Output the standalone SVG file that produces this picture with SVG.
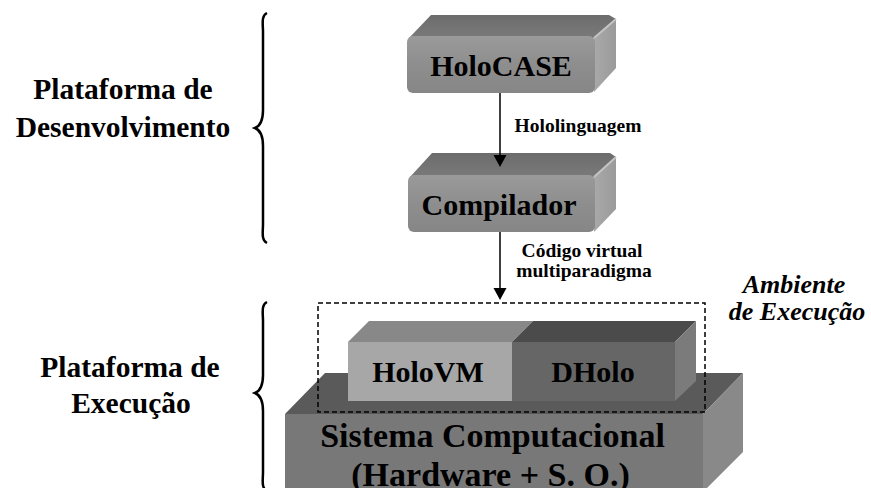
<svg xmlns="http://www.w3.org/2000/svg" width="871" height="488" viewBox="0 0 871 488">
<style>
text{font-family:"Liberation Serif","Times New Roman",serif;font-weight:bold;fill:#000;text-anchor:middle}
.big{font-size:30px}
.lbl{font-size:29.5px}
.sm{font-size:19.5px}
.it{font-size:26px;font-style:italic}
.sys{font-size:34px}
.brace{fill:none;stroke:#000;stroke-width:2.5}
</style>
<defs>
<linearGradient id="front" x1="0" y1="0" x2="0" y2="1">
<stop offset="0" stop-color="#9a9a9a"/>
<stop offset="0.5" stop-color="#8e8e8e"/>
<stop offset="1" stop-color="#868686"/>
</linearGradient>
<linearGradient id="side" x1="0" y1="0" x2="1" y2="0">
<stop offset="0" stop-color="#a9a9a9"/>
<stop offset="1" stop-color="#9a9a9a"/>
</linearGradient>
<linearGradient id="top" x1="0" y1="0" x2="0" y2="1">
<stop offset="0" stop-color="#6c6c6c"/>
<stop offset="1" stop-color="#7a7a7a"/>
</linearGradient>
</defs>

<g id="labels">
<text class="lbl" x="123" y="99">Plataforma de</text>
<text class="lbl" x="123" y="137">Desenvolvimento</text>
<text class="lbl" x="130" y="377">Plataforma de</text>
<text class="lbl" x="131" y="413">Execução</text>
<path class="brace" d="M267,13 C261,16 263,24 263,32 L263,110 C263,120 260,126 255,128 C260,130 263,136 263,146 L263,224 C263,232 261,240 267,243"/>
<path class="brace" d="M267,302 C261,305 263,313 263,321 L263,375 C263,385 260,391 255,393 C260,395 263,401 263,411 L263,472 C263,480 261,488 267,491"/>
</g>

<g id="holocase">
<polygon points="409,38 431,15 609,15 616,19 594,38" fill="url(#top)"/>
<polygon points="594,38 616,19 616,68 594,92" fill="url(#side)"/>
<polyline points="594,38 616,19" stroke="#c4c4c4" stroke-width="2" fill="none"/>
<rect x="407" y="36" width="188" height="57" rx="6" fill="url(#front)"/>
<text class="big" x="501" y="76">HoloCASE</text>
</g>

<g id="compilador">
<polygon points="410,177 432,153 610,153 616,157 594,177" fill="url(#top)"/>
<polygon points="594,177 616,157 616,209 594,232" fill="url(#side)"/>
<polyline points="594,177 616,157" stroke="#c4c4c4" stroke-width="2" fill="none"/>
<rect x="408" y="175" width="187" height="57" rx="6" fill="url(#front)"/>
<text class="big" x="499" y="215">Compilador</text>
</g>

<g id="sistema">
<polygon points="285,414 325,373 743,373 703,414" fill="#5a5a5a"/>
<polygon points="703,414 743,373 743,452 703,492" fill="#898989"/>
<rect x="285" y="414" width="418" height="80" fill="#787878"/>
<text class="sys" x="492.5" y="447">Sistema Computacional</text>
<text class="sys" x="490.5" y="486">(Hardware + S. O.)</text>
</g>

<g id="holovm">
<polygon points="348,342 369,321 533,321 512,342" fill="#888888"/>
<rect x="348" y="342" width="164" height="59" fill="#a7a7a7"/>
<text class="big" x="428" y="382">HoloVM</text>
</g>

<g id="dholo">
<polygon points="512,342 533,321 696,321 675,342" fill="#4b4b4b"/>
<polygon points="675,342 696,321 696,381 675,401" fill="#7b7b7b"/>
<rect x="512" y="342" width="163" height="59" fill="#666666"/>
<text class="big" x="593" y="382">DHolo</text>
</g>

<g id="ambiente">
<rect x="318" y="303" width="387" height="109" fill="none" stroke="#000" stroke-width="1.5" stroke-dasharray="5,3"/>
<text class="it" x="794" y="293">Ambiente</text>
<text class="it" x="797" y="320">de Execução</text>
</g>

<g id="connectors">
<line x1="500" y1="93" x2="500" y2="157" stroke="#000" stroke-width="1.5"/>
<polygon points="493.5,155 506.5,155 500,167" fill="#000"/>
<text class="sm" x="578" y="132">Hololinguagem</text>
<line x1="500" y1="232" x2="500" y2="290" stroke="#000" stroke-width="1.5"/>
<polygon points="493.5,288 506.5,288 500,300" fill="#000"/>
<text class="sm" x="582" y="257">Código virtual</text>
<text class="sm" x="584" y="277">multiparadigma</text>
</g>
</svg>
